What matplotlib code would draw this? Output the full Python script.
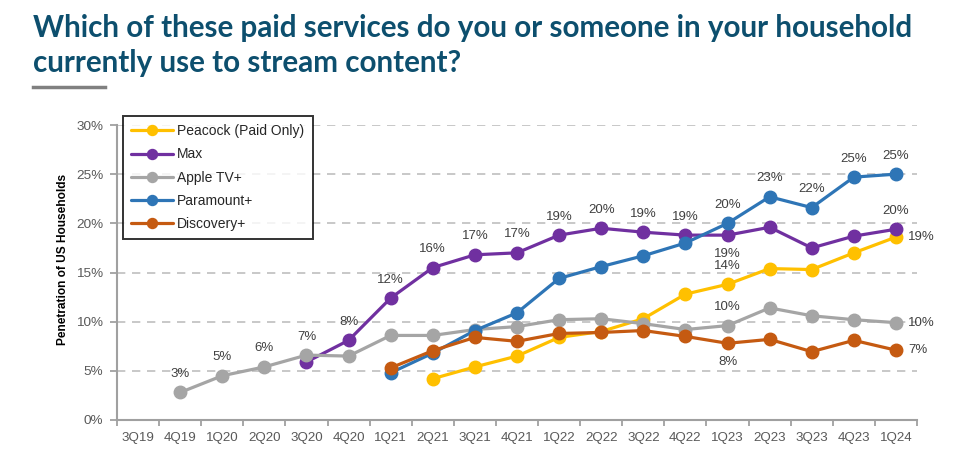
import matplotlib
matplotlib.use("Agg")
import matplotlib.pyplot as plt
import numpy as np

quarters = ["3Q19", "4Q19", "1Q20", "2Q20", "3Q20", "4Q20", "1Q21", "2Q21", "3Q21", "4Q21",
            "1Q22", "2Q22", "3Q22", "4Q22", "1Q23", "2Q23", "3Q23", "4Q23", "1Q24"]
N = None
peacock = [N, N, N, N, N, N, N, 4.2, 5.4, 6.5, 8.4, 9.0, 10.3, 12.8, 13.8, 15.4, 15.3, 17.0, 18.6]
max_ = [N, N, N, N, 5.9, 8.1, 12.4, 15.5, 16.8, 17.0, 18.8, 19.5, 19.1, 18.8, 18.8, 19.6, 17.5, 18.7, 19.4]
apple = [N, 2.8, 4.5, 5.4, 6.6, 6.5, 8.6, 8.6, 9.2, 9.5, 10.2, 10.3, 9.8, 9.2, 9.6, 11.4, 10.6, 10.2, 9.9]
paramount = [N, N, N, N, N, N, 4.8, 6.8, 9.1, 10.9, 14.4, 15.6, 16.7, 18.0, 20.0, 22.7, 21.6, 24.7, 25.0]
discovery = [N, N, N, N, N, N, 5.3, 7.05, 8.4, 8.0, 8.8, 8.9, 9.1, 8.5, 7.8, 8.2, 6.95, 8.1, 7.1]

series_names = ["Peacock (Paid Only)", "Max", "Apple TV+", "Paramount+", "Discovery+"]
series_values = [peacock, max_, apple, paramount, discovery]
series_colors = ["#FFC000", "#7030A0", "#A5A5A5", "#2E75B6", "#C55A11"]

# data labels: (series index, quarter, text, placement)
data_labels = [
    (2, "4Q19", "3%", "above"), (2, "1Q20", "5%", "above"), (2, "2Q20", "6%", "above"),
    (2, "3Q20", "7%", "above"), (1, "4Q20", "8%", "above"), (1, "1Q21", "12%", "above"),
    (1, "2Q21", "16%", "above"), (1, "3Q21", "17%", "above"), (1, "4Q21", "17%", "above"),
    (1, "1Q22", "19%", "above"), (1, "2Q22", "20%", "above"), (1, "3Q22", "19%", "above"),
    (1, "4Q22", "19%", "above"), (1, "1Q23", "19%", "below"), (1, "1Q24", "20%", "above"),
    (3, "1Q23", "20%", "above"), (3, "2Q23", "23%", "above"), (3, "3Q23", "22%", "above"),
    (3, "4Q23", "25%", "above"), (3, "1Q24", "25%", "above"),
    (0, "1Q23", "14%", "above"), (0, "1Q24", "19%", "right"),
    (2, "1Q23", "10%", "above"), (2, "1Q24", "10%", "right"),
    (4, "1Q23", "8%", "below"), (4, "1Q24", "7%", "right"),
]

yticks = [0, 5, 10, 15, 20, 25, 30]
title_lines = ["Which of these paid services do you or someone in your household",
               "currently use to stream content?"]
ylabel = "Penetration of US Households"

W, H = 960, 470
fig = plt.figure(figsize=(W / 100, H / 100), dpi=100)
ax = fig.add_axes([117 / W, 1 - 420 / H, 800 / W, 295 / H])

x = np.arange(len(quarters))
lines = []
for k, (name, vals, col) in enumerate(zip(series_names, series_values, series_colors)):
    v = np.array([np.nan if a is None else a for a in vals], dtype=float)
    ln, = ax.plot(x, v, color=col, lw=2.3, marker="o", ms=9, mec=col, mfc=col,
                  label=name, zorder=3 + k, solid_capstyle="round")
    lines.append(ln)

lab_font = dict(fontsize=9.5, color="#404040", family=["Liberation Sans", "DejaVu Sans"])
for si, q, txt, pos in data_labels:
    i = quarters.index(q)
    val = series_values[si][i]
    if pos == "above":
        ax.annotate(txt, (i, val), xytext=(0, 9), textcoords="offset points",
                    ha="center", va="bottom", zorder=20, **lab_font)
    elif pos == "below":
        ax.annotate(txt, (i, val), xytext=(0, -9), textcoords="offset points",
                    ha="center", va="top", zorder=20, **lab_font)
    else:
        ax.annotate(txt, (i, val), xytext=(9, 0), textcoords="offset points",
                    ha="left", va="center", zorder=20, **lab_font)

ax.set_xlim(-0.5, len(quarters) - 0.5)
ax.set_ylim(0, 30)
ax.set_yticks(yticks)
ax.set_yticklabels([f"{t}%" for t in yticks])
ax.set_xticks(x)
ax.set_xticklabels(quarters)
ax.set_xticks(np.arange(-0.5, len(quarters), 1), minor=True)
ax.tick_params(axis="x", which="major", length=0, pad=9, labelsize=9.6, labelcolor="#595959")
ax.tick_params(axis="x", which="minor", length=4, width=1.3, color="#A0A0A0")
ax.tick_params(axis="y", length=5, width=1.3, color="#A0A0A0", pad=5, labelsize=9.7,
               labelcolor="#595959")
for lbl in ax.get_xticklabels() + ax.get_yticklabels():
    lbl.set_family(["Liberation Sans", "DejaVu Sans"])

for t in yticks[1:]:
    ax.axhline(t, color="#BFBFBF", lw=1.2, ls=(0, (5, 4)), zorder=1)

for s in ["top", "right"]:
    ax.spines[s].set_visible(False)
for s in ["left", "bottom"]:
    ax.spines[s].set_color("#A0A0A0")
    ax.spines[s].set_linewidth(1.5)

fig.text(63 / W, 1 - 259 / H, ylabel, rotation=90, ha="center", va="center",
         fontsize=8.6, fontweight="bold", color="#000000",
         family=["Liberation Sans", "DejaVu Sans"])

leg = ax.legend(handles=lines, loc="upper left", bbox_to_anchor=(123 / W, 1 - 116 / H),
                bbox_transform=fig.transFigure, borderaxespad=0, frameon=True,
                fancybox=False, shadow=False, handlelength=3.0, handletextpad=0.3,
                labelspacing=0.66, borderpad=0.6, markerscale=0.8,
                prop=dict(family=["Liberation Sans", "DejaVu Sans"], size=10))
leg.get_frame().set_edgecolor("#000000")
leg.get_frame().set_linewidth(1.4)
leg.set_zorder(30)
for t in leg.get_texts():
    t.set_color("#262626")

tcol = "#0D4F6E"
fig.text(33 / W, 1 - 37 / H, title_lines[0], ha="left", va="baseline", fontsize=21.3,
         fontweight="bold", color=tcol, family=["Lato", "DejaVu Sans"])
fig.text(33 / W, 1 - 72 / H, title_lines[1], ha="left", va="baseline", fontsize=21.3,
         fontweight="bold", color=tcol, family=["Lato", "DejaVu Sans"])
fig.add_artist(plt.Line2D([33 / W, 105 / W], [1 - 87 / H, 1 - 87 / H], color="#808080",
                          lw=2.5, transform=fig.transFigure))

fig.savefig("out.png", dpi=100)
